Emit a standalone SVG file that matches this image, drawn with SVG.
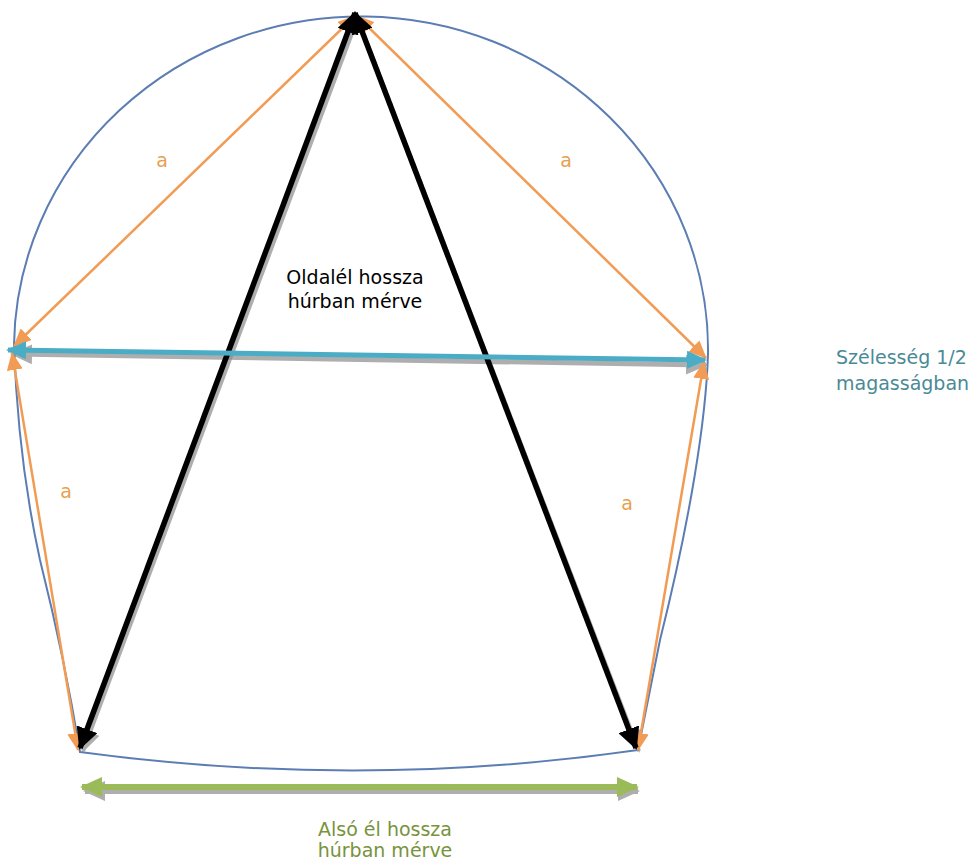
<svg xmlns="http://www.w3.org/2000/svg" width="975" height="862" viewBox="0 0 975 862">
<defs>
<style>
.lbl{font-family:"DejaVu Sans",sans-serif;font-size:19px}
.outline{fill:none;stroke:#5B7DB3;stroke-width:2}
.blk{stroke:#000;stroke-width:5.5;fill:none}
.org{stroke:#F29B54;stroke-width:2.5;fill:none}
.teal{stroke:#4BACC6;stroke-width:5;fill:none}
.grn{stroke:#9BBB59;stroke-width:6;fill:none}
.shd{stroke:#8C8C8C;fill:none;opacity:0.7}
</style>
<marker id="mb" markerUnits="userSpaceOnUse" markerWidth="22" markerHeight="22" refX="20" refY="11" orient="auto-start-reverse"><path d="M0,0 L22,11 L0,22 Z" fill="#000"/></marker>
<marker id="mo" markerUnits="userSpaceOnUse" markerWidth="18" markerHeight="16" refX="17" refY="8" orient="auto-start-reverse"><path d="M0,0 L18,8 L0,16 Z" fill="#F29B54"/></marker>
<marker id="mt" markerUnits="userSpaceOnUse" markerWidth="20" markerHeight="18" refX="18" refY="9" orient="auto-start-reverse"><path d="M0,0 L20,9 L0,18 Z" fill="#4BACC6"/></marker>
<marker id="mg" markerUnits="userSpaceOnUse" markerWidth="22" markerHeight="20" refX="20" refY="10" orient="auto-start-reverse"><path d="M0,0 L22,10 L0,20 Z" fill="#9BBB59"/></marker>
<marker id="ms" markerUnits="userSpaceOnUse" markerWidth="22" markerHeight="20" refX="20" refY="10" orient="auto-start-reverse"><path d="M0,0 L22,10 L0,20 Z" fill="#8C8C8C"/></marker>
</defs>
<g id="outline">
<path class="outline" d="M14,345 A347,333 0 0 1 708,354 C706,420 690,520 660,640 Q648,700 638,750 Q360,790 80,752 Q65,660 40,560 Q18,460 14,345 Z"/>
</g>
<g id="connectors">
<line class="shd" stroke-width="4" x1="357" y1="20" x2="83" y2="751" marker-end="url(#ms)"/>
<line class="shd" stroke-width="4" x1="358" y1="20" x2="639" y2="751" marker-end="url(#ms)"/>
<line class="shd" stroke-width="5" x1="12" y1="354" x2="706" y2="365" marker-start="url(#ms)" marker-end="url(#ms)"/>
<line class="shd" stroke-width="6" x1="85" y1="791" x2="638" y2="791" marker-start="url(#ms)" marker-end="url(#ms)"/>
<line class="org" x1="355" y1="16" x2="14" y2="346" marker-start="url(#mo)" marker-end="url(#mo)"/>
<line class="org" x1="357" y1="16" x2="706" y2="358" marker-start="url(#mo)" marker-end="url(#mo)"/>
<line class="org" x1="12" y1="353" x2="78" y2="750" marker-start="url(#mo)" marker-end="url(#mo)"/>
<line class="org" x1="704" y1="362" x2="638" y2="750" marker-start="url(#mo)" marker-end="url(#mo)"/>
<line class="blk" x1="355" y1="13" x2="80" y2="748" marker-start="url(#mb)" marker-end="url(#mb)"/>
<line class="blk" x1="355" y1="13" x2="636" y2="748" marker-start="url(#mb)" marker-end="url(#mb)"/>
<line class="teal" x1="8" y1="350" x2="705" y2="360" marker-start="url(#mt)" marker-end="url(#mt)"/>
<line class="grn" x1="82" y1="787" x2="637" y2="787" marker-start="url(#mg)" marker-end="url(#mg)"/>
</g>
<g id="labels-a" class="lbl" fill="#E8A050">
<text x="162" y="167" text-anchor="middle">a</text>
<text x="566" y="167" text-anchor="middle">a</text>
<text x="66" y="498" text-anchor="middle">a</text>
<text x="627" y="510" text-anchor="middle">a</text>
</g>
<g id="label-oldalel" class="lbl" fill="#000" text-anchor="middle">
<text x="355" y="284">Oldalél hossza</text>
<text x="355" y="308">húrban mérve</text>
</g>
<g id="label-szelesseg" class="lbl" fill="#4A8A96">
<text x="836" y="364">Szélesség 1/2</text>
<text x="836" y="390">magasságban</text>
</g>
<g id="label-also" class="lbl" fill="#77933C" text-anchor="middle">
<text x="385" y="836">Alsó él hossza</text>
<text x="385" y="857">húrban mérve</text>
</g>
</svg>
